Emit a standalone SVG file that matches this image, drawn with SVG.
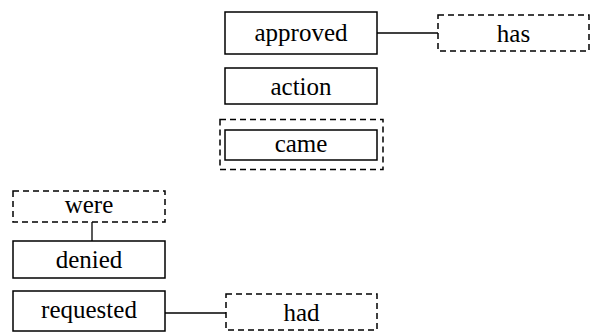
<svg xmlns="http://www.w3.org/2000/svg" width="592" height="332" viewBox="0 0 592 332">
<style>
.n{fill:#fff;stroke:#000;stroke-width:1.5}
.d{fill:#fff;stroke:#000;stroke-width:1.5;stroke-dasharray:6,4}
.t{font-family:"Liberation Serif","Times New Roman",Tinos,"Nimbus Roman","Nimbus Roman No9 L",FreeSerif,"DejaVu Serif","Noto Serif",Times,serif;font-size:25px;text-anchor:middle;fill:#000}
.c{stroke:#000;stroke-width:1.3;fill:none}
</style>
<rect width="592" height="332" fill="#fff"/>
<g id="connectors">
<line class="c" x1="377" y1="33" x2="438" y2="33"/>
<line class="c" x1="92" y1="222" x2="92" y2="241"/>
<line class="c" x1="165" y1="313" x2="226" y2="313"/>
</g>
<g id="approved"><rect class="n" x="225" y="12" width="152" height="42"/><text class="t" x="301" y="41">approved</text></g>
<g id="has"><rect class="d" x="438" y="15" width="151" height="36"/><text class="t" x="513.5" y="42">has</text></g>
<g id="action"><rect class="n" x="225" y="68" width="152" height="36"/><text class="t" x="301" y="95">action</text></g>
<g id="came"><rect class="d" x="220" y="119.5" width="163" height="50"/><rect class="n" x="225" y="130" width="152" height="30"/><text class="t" x="301" y="152">came</text></g>
<g id="were"><rect class="d" x="13" y="191" width="152" height="31"/><text class="t" x="89" y="212.5">were</text></g>
<g id="denied"><rect class="n" x="13" y="241" width="152" height="37"/><text class="t" x="89" y="267.5">denied</text></g>
<g id="requested"><rect class="n" x="13" y="291" width="152" height="40"/><text class="t" x="89" y="318">requested</text></g>
<g id="had"><rect class="d" x="226" y="294" width="151" height="36"/><text class="t" x="301.5" y="321">had</text></g>
</svg>
